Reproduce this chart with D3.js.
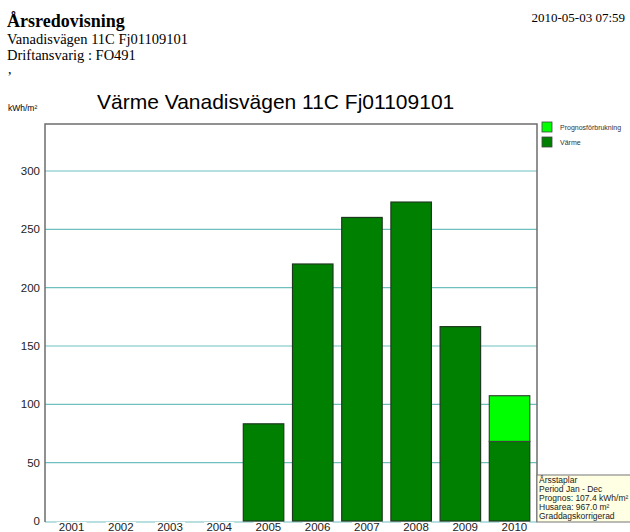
<html>
<head>
  <script src="https://d3js.org/d3.v7.min.js"></script>
  <style>
    body { margin: 0; background: #fff; }
    svg text { font-family: "Liberation Sans", Arial, sans-serif; }
    svg text.serif { font-family: "Liberation Serif", "Times New Roman", serif; }
  </style>
</head>
<body>
<svg id="chart" width="630" height="532"></svg>
<script>
  // Data
  const years = ["2001","2002","2003","2004","2005","2006","2007","2008","2009","2010"];
  const varme = [0, 0, 0, 0, 83.3, 220.3, 260.2, 273.4, 166.6, 68.2];
  const prognos = [0, 0, 0, 0, 0, 0, 0, 0, 0, 39.2];
  const yTicks = [0, 50, 100, 150, 200, 250, 300];
  const infoLines = ["Årsstaplar", "Period Jan - Dec", "Prognos: 107.4 kWh/m²", "Husarea: 967.0 m²", "Graddagskorrigerad"];

  const svg = d3.select("#chart");

  // Page header
  svg.append("text").attr("class", "serif").attr("x", 7).attr("y", 27)
    .attr("font-size", 18).attr("font-weight", "bold").text("Årsredovisning");
  svg.append("text").attr("class", "serif").attr("x", 7).attr("y", 44)
    .attr("font-size", 14.5).text("Vanadisvägen 11C Fj01109101");
  svg.append("text").attr("class", "serif").attr("x", 7).attr("y", 60)
    .attr("font-size", 14.5).text("Driftansvarig : FO491");
  svg.append("text").attr("class", "serif").attr("x", 8).attr("y", 74)
    .attr("font-size", 14).text(",");
  svg.append("text").attr("class", "serif").attr("x", 625).attr("y", 22)
    .attr("font-size", 13).attr("text-anchor", "end").text("2010-05-03 07:59");

  // Chart title
  svg.append("text").attr("x", 97).attr("y", 109).attr("font-size", 21)
    .text("Värme Vanadisvägen 11C Fj01109101");
  svg.append("text").attr("x", 8).attr("y", 111).attr("font-size", 8.5)
    .text("kWh/m²");

  const pLeft = 45, pRight = 537, pTop = 124, pBottom = 521;
  const x = d3.scaleBand().domain(years).range([pLeft, pRight]);
  const y = d3.scaleLinear().domain([0, 340.3]).range([pBottom, pTop]);

  // grid lines
  svg.append("g").selectAll("line").data(yTicks.filter(d => d > 0)).join("line")
    .attr("x1", pLeft).attr("x2", pRight)
    .attr("y1", d => y(d)).attr("y2", d => y(d))
    .attr("stroke", "#6fbfbf").attr("stroke-width", 1.2);

  // bottom teal line
  svg.append("line").attr("x1", pLeft).attr("x2", pRight)
    .attr("y1", pBottom + 1).attr("y2", pBottom + 1)
    .attr("stroke", "#9fd4d4").attr("stroke-width", 1.5);

  // y tick labels
  svg.append("g").selectAll("text").data(yTicks).join("text")
    .attr("x", 40).attr("y", d => y(d) + 4)
    .attr("text-anchor", "end").attr("font-size", 11.5).attr("fill", "#222")
    .text(d => d);

  // bars
  const barW = 40.5;
  const g = svg.append("g");
  years.forEach((yr, i) => {
    if (varme[i] > 0) {
      g.append("rect")
        .attr("x", x(yr) + 1.5).attr("width", barW)
        .attr("y", y(varme[i])).attr("height", y(0) - y(varme[i]))
        .attr("fill", "#008000").attr("stroke", "#1e3a1e").attr("stroke-width", 1.2);
    }
    if (prognos[i] > 0) {
      g.append("rect")
        .attr("x", x(yr) + 1.5).attr("width", barW)
        .attr("y", y(varme[i] + prognos[i])).attr("height", y(varme[i]) - y(varme[i] + prognos[i]))
        .attr("fill", "#00ff00").attr("stroke", "#3a4a3a").attr("stroke-width", 1.2);
    }
  });

  // frame
  svg.append("path")
    .attr("d", `M${pLeft},${pBottom + 1}V${pTop}H${pRight}V${pBottom + 1}`)
    .attr("fill", "none").attr("stroke", "#6e6e6e").attr("stroke-width", 1.5);

  // x labels with white background
  const xl = svg.append("g").selectAll("g").data(years).join("g")
    .attr("transform", d => `translate(${x(d) + x.bandwidth() / 2 + 2},531)`);
  xl.append("rect").attr("x", -15).attr("y", -9).attr("width", 30).attr("height", 12).attr("fill", "#fff");
  xl.append("text").attr("text-anchor", "middle").attr("font-size", 11.5).attr("fill", "#222").text(d => d);

  // legend
  const legend = [["Prognosförbrukning", "#00ff00"], ["Värme", "#008000"]];
  const lg = svg.append("g").selectAll("g").data(legend).join("g")
    .attr("transform", (d, i) => `translate(542,${122 + i * 15})`);
  lg.append("rect").attr("width", 10).attr("height", 10)
    .attr("fill", d => d[1]).attr("stroke", "#444").attr("stroke-width", 0.8);
  lg.append("text").attr("x", 18).attr("y", 8).attr("font-size", 7).attr("fill", "#333").text(d => d[0]);

  // info box
  svg.append("rect").attr("x", 537).attr("y", 475).attr("width", 95).attr("height", 47)
    .attr("fill", "#ffffe4").attr("stroke", "#777").attr("stroke-width", 1);
  svg.append("g").selectAll("text").data(infoLines).join("text")
    .attr("x", 539).attr("y", (d, i) => 483 + i * 9)
    .attr("font-size", 8.5).attr("fill", "#222").text(d => d);
</script>
</body>
</html>
